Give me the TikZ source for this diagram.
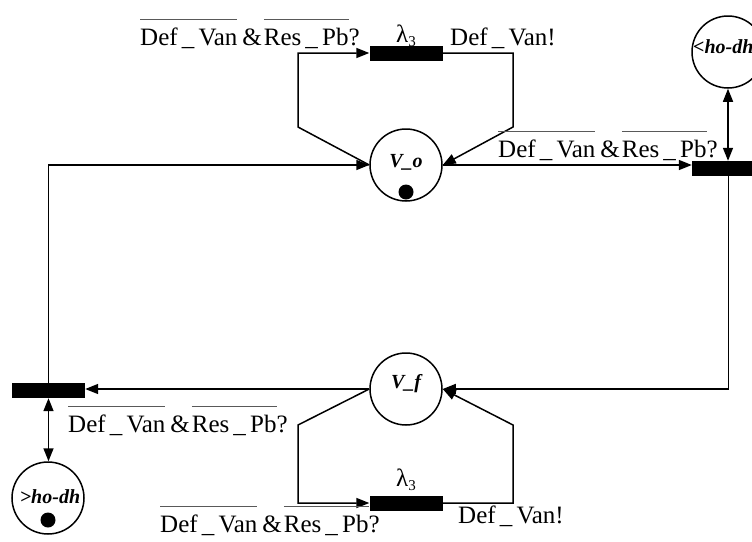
\documentclass[tikz,border=0pt]{standalone}
\usepackage{fontspec}
\setmainfont{Liberation Serif}
\usetikzlibrary{arrows.meta}
\newcommand{\myov}[1]{\setbox0\hbox{#1}\rlap{\color{black!65}\rule[25pt]{\wd0}{0.9pt}}\box0}
\newcommand{\condlabel}{\myov{Def\,\_\,Van}\hspace{5pt}\&\hspace{2pt}\myov{Res\,\_\,Pb}?}
\newcommand{\actlabel}{Def\,\_\,Van!}
\newcommand{\lamlabel}{{\fontsize{25}{25}\selectfont λ}\raisebox{-4pt}{\fontsize{15}{15}\selectfont 3}}
\begin{document}
\begin{tikzpicture}[x=1pt,y=-1pt,
  place/.style={draw,circle,line width=1.5pt,minimum size=72pt,inner sep=0pt},
  trans/.style={fill=black,draw=none,minimum width=73pt,minimum height=15pt,inner sep=0pt},
  token/.style={fill=black,circle,minimum size=15pt,inner sep=0pt},
  plabel/.style={font=\fontsize{20}{20}\selectfont\bfseries\itshape,anchor=base,inner sep=0pt},
  elabel/.style={font=\fontsize{25}{25}\selectfont,anchor=base west,inner sep=0pt},
  lam/.style={anchor=base,inner sep=0pt},
  arr/.style={line width=1.5pt,-{Triangle[length=13pt,width=10pt]}},
  arrb/.style={line width=1.5pt,{Triangle[length=13pt,width=10pt]}-{Triangle[length=13pt,width=10pt]}},
  ln/.style={line width=1.5pt}]
\useasboundingbox (0,0) rectangle (752,541);
\clip (0,0) rectangle (752,541);
% places
\node[place] (Vo) at (406,165) {};
\node[place] (Vf) at (406,389) {};
\node[place] (rc) at (728,52) {};
\node[place] (lc) at (48,498) {};
\node[plabel] (Votxt) at (406,167) {V\_o};
\node[plabel] (Vftxt) at (406,388) {V\_f};
\node[plabel,anchor=base west] (rctxt) at (693,53) {<ho-dh};
\node[plabel] (lctxt) at (50,503) {>ho-dh};
\node[token] (tokVo) at (406,192) {};
\node[token] (toklc) at (48,520) {};
% transitions
\node[trans] (tb) at (406,53) {};
\node[trans] (bb) at (406,503) {};
\node[trans] (rb) at (728.5,168.5) {};
\node[trans] (lb) at (48.5,390.5) {};
% corner coordinates
\coordinate (t1) at (298,127);
\coordinate (t2) at (298,53);
\coordinate (t3) at (513,53);
\coordinate (t4) at (513,127);
\coordinate (b1) at (298,425);
\coordinate (b2) at (298,503);
\coordinate (b3) at (513,503);
\coordinate (b4) at (513,425);
% connectors
\draw[arr] (lb.north) |- (Vo.west);
\draw[arr] (Vo.west) -- (t1) -- (t2) -- (tb.west);
\draw[arr] (tb.east) -- (t3) -- (t4) -- (Vo.east);
\draw[arr] (Vo.east) -- (Vo.east -| rb.west);
\draw[arrb] (rc.south) -- (rc.south |- rb.north);
\draw[arr] (rb.south) |- (Vf.east);
\draw[arr] (Vf.west) -- (Vf.west -| lb.east);
\draw[arr] (Vf.west) -- (b1) -- (b2) -- (bb.west);
\draw[arr] (bb.east) -- (b3) -- (b4) -- (Vf.east);
\draw[arrb] (lb.south) -- (lb.south |- lc.north);
% labels
\node[elabel] (l1) at (140,45) {\condlabel};
\node[elabel] (l2) at (450,45) {\actlabel};
\node[lam] (lam1) at (406,42) {\lamlabel};
\node[elabel] (l3) at (498,157) {\condlabel};
\node[elabel] (l4) at (68,432) {\condlabel};
\node[elabel] (l5) at (160,532) {\condlabel};
\node[elabel] (l6) at (458,523) {\actlabel};
\node[lam] (lam2) at (406,486) {\lamlabel};
\end{tikzpicture}
\end{document}
